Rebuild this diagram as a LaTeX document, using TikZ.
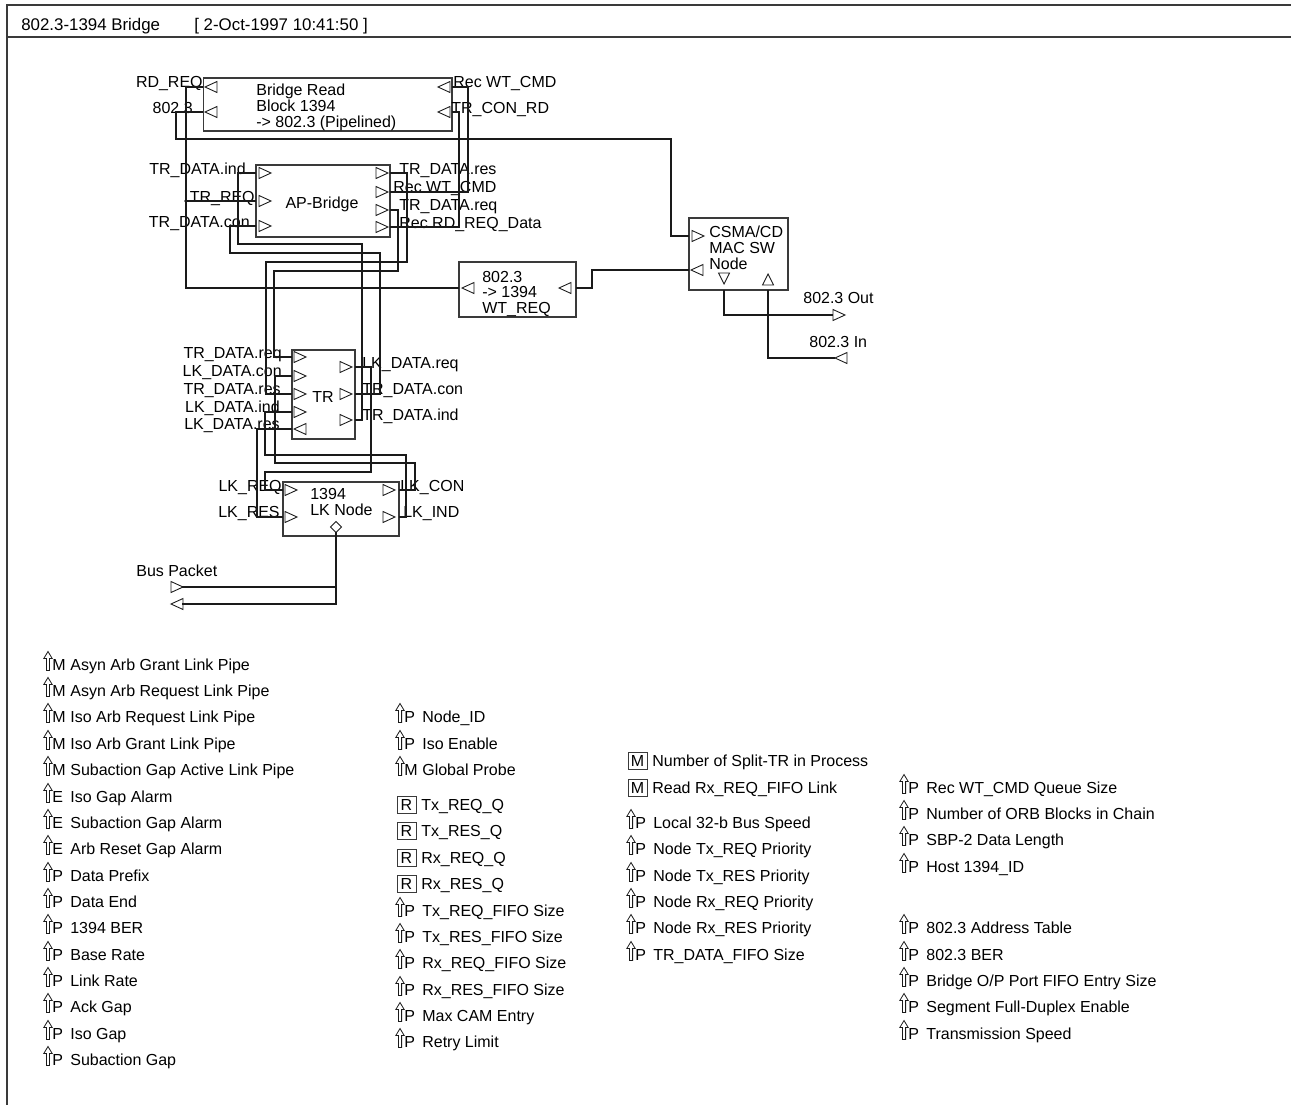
\documentclass[tikz,border=0pt]{standalone}
\usepackage{fontspec}
\setmainfont{Liberation Sans}
\usepackage{xcolor}
\usepackage{tikz}
\definecolor{WIRE}{HTML}{1a1a1a}
\definecolor{BOXLINE}{HTML}{3a3a3a}
\tikzset{
  frame/.style={draw=BOXLINE, line width=0.6pt},
  blk/.style={rectangle, draw=BOXLINE, line width=0.6pt, inner sep=0pt},
  lbl/.style={inner sep=0pt, font=\fontsize{9.1}{9.1}\selectfont},
  ttl/.style={inner sep=0pt, font=\fontsize{9.6}{9.6}\selectfont},
  wire/.style={draw=WIRE, line width=0.6pt},
  port/.style={draw=WIRE, line width=0.5pt},
  icon/.style={draw=WIRE, line width=0.45pt},
  % port marks, drawn in pixel units
  pics/pR/.style={code={\draw[port] (0,-5.5) -- (12,0) -- (0,5.5) -- cycle;}},
  pics/pL/.style={code={\draw[port] (12,-5.5) -- (0,0) -- (12,5.5) -- cycle;}},
  pics/pD/.style={code={\draw[port] (-5.5,0) -- (5.5,0) -- (0,11) -- cycle;}},
  pics/pU/.style={code={\draw[port] (-5.5,11) -- (5.5,11) -- (0,0) -- cycle;}},
  pics/pB/.style={code={\draw[port] (0,-5.5) -- (5.5,0) -- (0,5.5) -- (-5.5,0) -- cycle;}},
  % parameter list entries
  pics/parm/.style={code={
    \draw[icon] (-1.6,0) -- (1.6,0) -- (1.6,-12) -- (4.2,-12) -- (0,-19)
      -- (-4.2,-12) -- (-1.6,-12) -- cycle;
    \node[lbl, anchor=base west] (-k) at (4,0) {#1};
    \node[lbl, anchor=base west] (-t) at (22,0) {\tikzpictext};
  }},
  pics/regm/.style={code={
    \node[lbl, draw=BOXLINE, line width=0.5pt, minimum width=0.38cm,
      minimum height=0.34cm] (-k) at (6.5,-6) {#1};
    \node[lbl, anchor=base west] (-t) at (21,0) {\tikzpictext};
  }},
}

\begin{document}
\begin{tikzpicture}[x=0.02cm, y=-0.02cm]

  \useasboundingbox (0,0) rectangle (1291,1105);

  % sheet frame and title
  \draw[frame] (1291,5) -- (7,5) -- (7,1105);
  \draw[frame] (7,37) -- (1291,37);
  \node[ttl, anchor=base west] (title) at (21,31) {802.3-1394 Bridge};
  \node[ttl, anchor=base west] (stamp) at (194,31) {[ 2-Oct-1997 10:41:50 ]};

  % blocks
  \node[blk, minimum width=4.98cm, minimum height=1.06cm] (brd) at (327.5,104.5) {};
  \node[lbl, align=left, anchor=west] (brdtxt) at (256,107)
    {Bridge Read\\Block 1394\\-> 802.3 (Pipelined)};

  \node[blk, minimum width=2.68cm, minimum height=1.44cm] (apb) at (323,201) {};
  \node[lbl] (apbtxt) at (322,204) {AP-Bridge};

  \node[blk, minimum width=1.98cm, minimum height=1.44cm] (csma) at (738.5,254) {};
  \node[lbl, align=left, anchor=west] (csmatxt) at (709,248)
    {CSMA/CD\\MAC SW\\Node};

  \node[blk, minimum width=2.34cm, minimum height=1.10cm] (wt) at (517.5,289.5) {};
  \node[lbl, align=left, anchor=west] (wttxt) at (482,294)
    {802.3\\-> 1394\\WT\_REQ};

  \node[blk, minimum width=1.26cm, minimum height=1.78cm] (tr) at (323.5,394.5) {};
  \node[lbl] (trtxt) at (323,397) {TR};

  \node[blk, minimum width=2.32cm, minimum height=1.08cm] (lkn) at (341,509) {};
  \node[lbl, align=left, anchor=west] (lkntxt) at (310,502) {1394\\LK Node};

  % port points
  \coordinate (brd-rdreq) at (203,87);
  \coordinate (brd-lan)   at (203,112);
  \coordinate (brd-wtcmd) at (452,87);
  \coordinate (brd-conrd) at (452,112);
  \coordinate (apb-ind)   at (256,173);
  \coordinate (apb-treq)  at (256,201);
  \coordinate (apb-con)   at (256,226);
  \coordinate (apb-res)   at (390,173);
  \coordinate (apb-wtcmd) at (390,192);
  \coordinate (apb-req)   at (390,210);
  \coordinate (apb-rdd)   at (390,227);
  \coordinate (tr-req)    at (292,357);
  \coordinate (tr-lkcon)  at (292,376);
  \coordinate (tr-res)    at (292,394);
  \coordinate (tr-lkind)  at (292,412);
  \coordinate (tr-lkres)  at (292,429);
  \coordinate (tr-lkreq)  at (355,367);
  \coordinate (tr-con)    at (355,394);
  \coordinate (tr-ind)    at (355,420);
  \coordinate (lkn-req)   at (283,490);
  \coordinate (lkn-res)   at (283,517);
  \coordinate (lkn-con)   at (399,490);
  \coordinate (lkn-ind)   at (399,517);
  \coordinate (lkn-bus)   at (336,532);
  \coordinate (csma-rx)   at (689,236);
  \coordinate (csma-tx)   at (689,270);
  \coordinate (csma-out)  at (724,290);
  \coordinate (csma-in)   at (768,290);
  \coordinate (wt-w)      at (459,288);
  \coordinate (wt-e)      at (576,288);
  \coordinate (lanout)    at (833,315);
  \coordinate (lanin)     at (835,358);
  \coordinate (bustx)     at (182,587);
  \coordinate (busrx)     at (182,604);
  \coordinate (junc)      at (186,201);

  % port marks
  \pic at (205,87) {pL};   \pic at (205,112) {pL};
  \pic at (438,87) {pL};   \pic at (438,112) {pL};
  \pic at (259,173) {pR};  \pic at (259,201) {pR};  \pic at (259,226) {pR};
  \pic at (376,173) {pR};  \pic at (376,192) {pR};
  \pic at (376,210) {pR};  \pic at (376,227) {pR};
  \pic at (294,357) {pR};  \pic at (294,376) {pR};  \pic at (294,394) {pR};
  \pic at (294,412) {pR};  \pic at (294,429) {pL};
  \pic at (340,367) {pR};  \pic at (340,394) {pR};  \pic at (340,420) {pR};
  \pic at (285,490) {pR};  \pic at (285,517) {pR};
  \pic at (383,490) {pR};  \pic at (383,517) {pR};
  \pic at (336,527) {pB};
  \pic at (692,236) {pR};  \pic at (691,270) {pL};
  \pic at (724,273) {pD};  \pic at (768,274) {pU};
  \pic at (462,288) {pL};  \pic at (559,288) {pL};
  \pic at (833,315) {pR};  \pic at (835,358) {pL};
  \pic at (171,587) {pR};  \pic at (171,604) {pL};

  % port labels
  \node[lbl, anchor=base east] (l-rdreq) at (203,88) {RD\_REQ};
  \node[lbl, anchor=base east] (l-lan)   at (193,113) {802.3};
  \node[lbl, anchor=base west] (l-wtcmd) at (453,88) {Rec WT\_CMD};
  \node[lbl, anchor=base west] (l-conrd) at (451,113) {TR\_CON\_RD};

  \node[lbl, anchor=base east] (l-aind)  at (246,174) {TR\_DATA.ind};
  \node[lbl, anchor=base east] (l-atreq) at (255,202) {TR\_REQ};
  \node[lbl, anchor=base east] (l-acon)  at (250,227) {TR\_DATA.con};
  \node[lbl, anchor=base west] (l-ares)  at (399,174) {TR\_DATA.res};
  \node[lbl, anchor=base west] (l-awt)   at (393,192) {Rec WT\_CMD};
  \node[lbl, anchor=base west] (l-areq)  at (399,210) {TR\_DATA.req};
  \node[lbl, anchor=base west] (l-ardd)  at (399,228) {Rec RD\_REQ\_Data};

  \node[lbl, anchor=base east] (l-treq)   at (282,358) {TR\_DATA.req};
  \node[lbl, anchor=base east] (l-tlkcon) at (282,376) {LK\_DATA.con};
  \node[lbl, anchor=base east] (l-tres)   at (281,394) {TR\_DATA.res};
  \node[lbl, anchor=base east] (l-tlkind) at (280,412) {LK\_DATA.ind};
  \node[lbl, anchor=base east] (l-tlkres) at (280,429) {LK\_DATA.res};
  \node[lbl, anchor=base west] (l-tlkreq) at (362,368) {LK\_DATA.req};
  \node[lbl, anchor=base west] (l-tcon)   at (362,394) {TR\_DATA.con};
  \node[lbl, anchor=base west] (l-tind)   at (362,420) {TR\_DATA.ind};

  \node[lbl, anchor=base east] (l-lreq) at (282,491) {LK\_REQ};
  \node[lbl, anchor=base east] (l-lres) at (280,517) {LK\_RES};
  \node[lbl, anchor=base west] (l-lcon) at (400,491) {LK\_CON};
  \node[lbl, anchor=base west] (l-lind) at (403,517) {LK\_IND};

  \node[lbl, anchor=base west] (l-out) at (803,303) {802.3 Out};
  \node[lbl, anchor=base west] (l-in)  at (809,347) {802.3 In};
  \node[lbl, anchor=base west] (l-bus) at (136,576) {Bus Packet};

  % wires
  \draw[wire] (brd-rdreq) -- (186,87) -- (186,288) -- (wt-w);
  \draw[wire] (apb-treq) -- (junc);
  \fill[WIRE] (junc) circle[radius=1.8];
  \draw[wire] (brd-lan) -- (176,112) -- (176,139) -- (671,139) -- (671,236) -- (csma-rx);
  \draw[wire] (apb-wtcmd) -- (468,192) -- (468,87) -- (brd-wtcmd);
  \draw[wire] (apb-rdd) -- (459,227) -- (459,112) -- (brd-conrd);
  \draw[wire] (apb-ind) -- (238,173) -- (238,244) -- (362,244) -- (362,420) -- (tr-ind);
  \draw[wire] (apb-con) -- (230,226) -- (230,253) -- (380,253) -- (380,394) -- (tr-con);
  \draw[wire] (apb-res) -- (407,173) -- (407,262) -- (266,262) -- (266,394) -- (tr-res);
  \draw[wire] (apb-req) -- (398,210) -- (398,271) -- (274,271) -- (274,357) -- (tr-req);
  \draw[wire] (tr-lkreq) -- (371,367) -- (371,472) -- (265,472) -- (265,490) -- (lkn-req);
  \draw[wire] (tr-lkcon) -- (275,376) -- (275,463) -- (415,463) -- (415,490) -- (lkn-con);
  \draw[wire] (tr-lkind) -- (265,412) -- (265,455) -- (406,455) -- (406,517) -- (lkn-ind);
  \draw[wire] (tr-lkres) -- (257,429) -- (257,517) -- (lkn-res);
  \draw[wire] (bustx) -| (lkn-bus);
  \draw[wire] (busrx) -| (lkn-bus);
  \draw[wire] (wt-e) -- (592,288) -- (592,270) -- (csma-tx);
  \draw[wire] (csma-out) |- (lanout);
  \draw[wire] (csma-in) |- (lanin);

  % parameters, column 1
  \pic[pic text={Asyn Arb Grant Link Pipe}]        (a1)  at (48,670.5)  {parm=M};
  \pic[pic text={Asyn Arb Request Link Pipe}]      (a2)  at (48,696.5)  {parm=M};
  \pic[pic text={Iso Arb Request Link Pipe}]       (a3)  at (48,722.5)  {parm=M};
  \pic[pic text={Iso Arb Grant Link Pipe}]         (a4)  at (48,749.5)  {parm=M};
  \pic[pic text={Subaction Gap Active Link Pipe}]  (a5)  at (48,775.5)  {parm=M};
  \pic[pic text={Iso Gap Alarm}]                   (a6)  at (48,802.5)  {parm=E};
  \pic[pic text={Subaction Gap Alarm}]             (a7)  at (48,828.5)  {parm=E};
  \pic[pic text={Arb Reset Gap Alarm}]             (a8)  at (48,854.5)  {parm=E};
  \pic[pic text={Data Prefix}]                     (a9)  at (48,881.5)  {parm=P};
  \pic[pic text={Data End}]                        (a10) at (48,907.5)  {parm=P};
  \pic[pic text={1394 BER}]                        (a11) at (48,933.5)  {parm=P};
  \pic[pic text={Base Rate}]                       (a12) at (48,960.5)  {parm=P};
  \pic[pic text={Link Rate}]                       (a13) at (48,986.5)  {parm=P};
  \pic[pic text={Ack Gap}]                         (a14) at (48,1012.5) {parm=P};
  \pic[pic text={Iso Gap}]                         (a15) at (48,1039.5) {parm=P};
  \pic[pic text={Subaction Gap}]                   (a16) at (48,1065.5) {parm=P};

  % column 2
  \pic[pic text={Node\_ID}]           (b1)  at (400,722.5)  {parm=P};
  \pic[pic text={Iso Enable}]         (b2)  at (400,749.5)  {parm=P};
  \pic[pic text={Global Probe}]       (b3)  at (400,775.5)  {parm=M};
  \pic[pic text={Tx\_REQ\_Q}]         (b4)  at (400,810.5)  {regm=R};
  \pic[pic text={Tx\_RES\_Q}]         (b5)  at (400,836.5)  {regm=R};
  \pic[pic text={Rx\_REQ\_Q}]         (b6)  at (400,863.5)  {regm=R};
  \pic[pic text={Rx\_RES\_Q}]         (b7)  at (400,889.5)  {regm=R};
  \pic[pic text={Tx\_REQ\_FIFO Size}] (b8)  at (400,916.5)  {parm=P};
  \pic[pic text={Tx\_RES\_FIFO Size}] (b9)  at (400,942.5)  {parm=P};
  \pic[pic text={Rx\_REQ\_FIFO Size}] (b10) at (400,968.5)  {parm=P};
  \pic[pic text={Rx\_RES\_FIFO Size}] (b11) at (400,995.5)  {parm=P};
  \pic[pic text={Max CAM Entry}]      (b12) at (400,1021.5) {parm=P};
  \pic[pic text={Retry Limit}]        (b13) at (400,1047.5) {parm=P};

  % column 3
  \pic[pic text={Number of Split-TR in Process}] (c1) at (631,766.5) {regm=M};
  \pic[pic text={Read Rx\_REQ\_FIFO Link}]       (c2) at (631,793.5) {regm=M};
  \pic[pic text={Local 32-b Bus Speed}]          (c3) at (631,828.5) {parm=P};
  \pic[pic text={Node Tx\_REQ Priority}]         (c4) at (631,854.5) {parm=P};
  \pic[pic text={Node Tx\_RES Priority}]         (c5) at (631,881.5) {parm=P};
  \pic[pic text={Node Rx\_REQ Priority}]         (c6) at (631,907.5) {parm=P};
  \pic[pic text={Node Rx\_RES Priority}]         (c7) at (631,933.5) {parm=P};
  \pic[pic text={TR\_DATA\_FIFO Size}]           (c8) at (631,960.5) {parm=P};

  % column 4
  \pic[pic text={Rec WT\_CMD Queue Size}]          (d1) at (904,793.5)  {parm=P};
  \pic[pic text={Number of ORB Blocks in Chain}]   (d2) at (904,819.5)  {parm=P};
  \pic[pic text={SBP-2 Data Length}]               (d3) at (904,845.5)  {parm=P};
  \pic[pic text={Host 1394\_ID}]                   (d4) at (904,872.5)  {parm=P};
  \pic[pic text={802.3 Address Table}]             (d5) at (904,933.5)  {parm=P};
  \pic[pic text={802.3 BER}]                       (d6) at (904,960.5)  {parm=P};
  \pic[pic text={Bridge O/P Port FIFO Entry Size}] (d7) at (904,986.5)  {parm=P};
  \pic[pic text={Segment Full-Duplex Enable}]      (d8) at (904,1012.5) {parm=P};
  \pic[pic text={Transmission Speed}]              (d9) at (904,1039.5) {parm=P};

\end{tikzpicture}
\end{document}
